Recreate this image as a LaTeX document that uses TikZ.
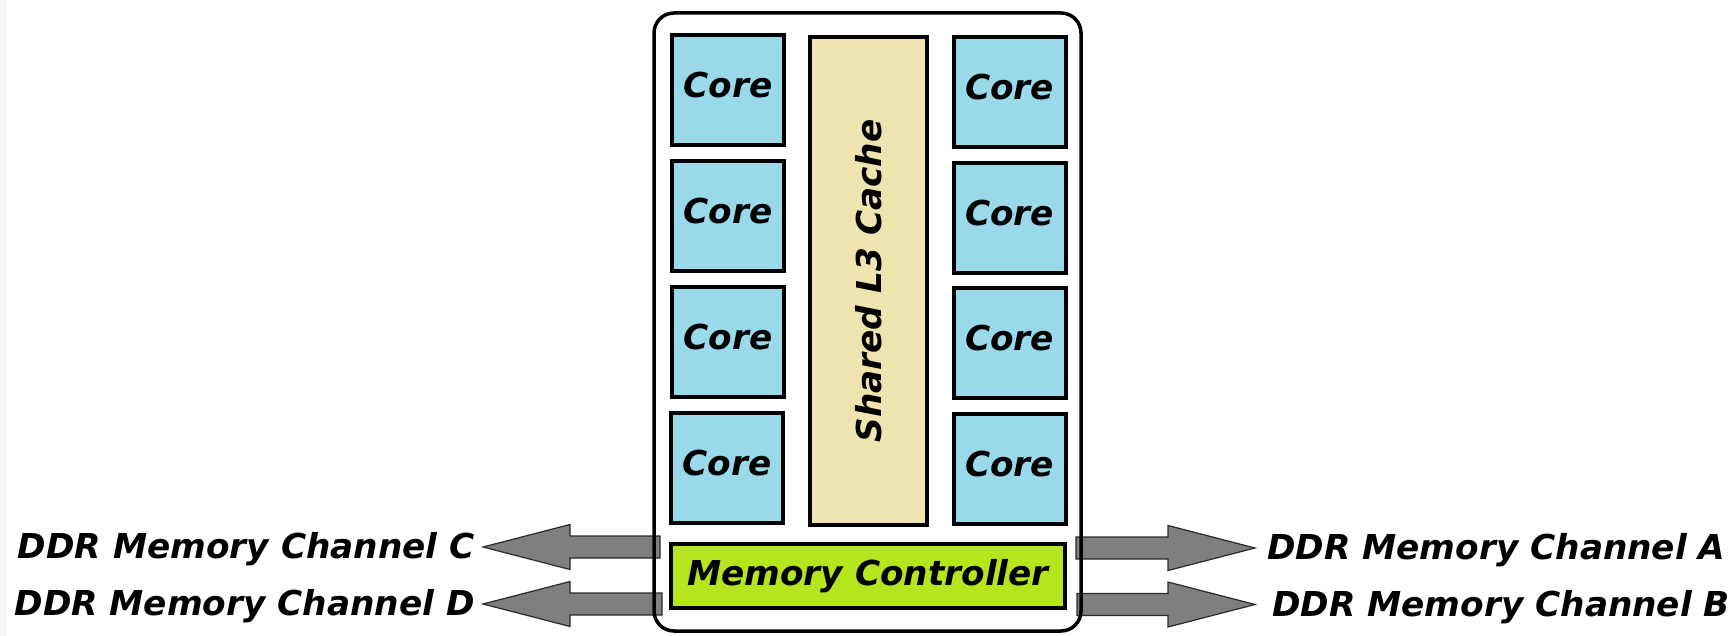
\documentclass[tikz,border=0pt]{standalone}
\usepackage{fontspec}
\setmainfont{DejaVu Sans}
\usetikzlibrary{calc}
\definecolor{corefill}{HTML}{99D9EA}
\definecolor{cachefill}{HTML}{EFE4B0}
\definecolor{mcfill}{HTML}{B5E61D}
\definecolor{arrowfill}{HTML}{7F7F7F}
\definecolor{arrowline}{HTML}{2A2A2A}
\definecolor{edgestrip}{HTML}{F7F7F7}
\newcommand\labfont{\fontsize{34.3}{41}\selectfont\bfseries\itshape}
% wide block arrow from tail coordinate #1 to tip coordinate #2
\newcommand\fatarrow[2]{%
  \path ($(#2)!87pt!(#1)$) coordinate (hb);
  \draw[chanarrow]
    ($(#1)+(0,-11)$) -- ($(hb)+(0,-11)$) -- ($(hb)+(0,-22.5)$) -- (#2)
    -- ($(hb)+(0,22.5)$) -- ($(hb)+(0,11)$) -- ($(#1)+(0,11)$) -- cycle;
}
\tikzset{
  block/.style={draw=black, line width=4pt, inner sep=0pt, font=\labfont},
  core/.style={block, fill=corefill, minimum width=112pt, minimum height=110pt,
    text depth=10pt},
  chanarrow/.style={fill=arrowfill, draw=arrowline, line width=1.2pt, line join=miter},
  chanlabel/.style={inner sep=0pt, font=\labfont},
}
\begin{document}
\begin{tikzpicture}[x=1pt, y=-1pt]
  \useasboundingbox (0,0) rectangle (1736,636);
  \fill[white] (0,0) rectangle (1736,636);
  \fill[edgestrip] (0,0) rectangle (7,636);

  % package outline (interior)
  \fill[white, rounded corners=20pt] (654,13) rectangle (1081,631);

  % cores, left column
  \node[core] (cl1) at (728,90)  {Core};
  \node[core] (cl2) at (728,216) {Core};
  \node[core] (cl3) at (728,342) {Core};
  \node[core] (cl4) at (727,468) {Core};
  % cores, right column
  \node[core] (cr1) at (1009.5,92)  {Core};
  \node[core] (cr2) at (1009.5,218) {Core};
  \node[core] (cr3) at (1009.5,343) {Core};
  \node[core] (cr4) at (1009.5,469) {Core};

  % shared cache
  \node[block, fill=cachefill, minimum width=117pt, minimum height=488pt]
    (l3) at (868.5,281) {};
  \node[font=\labfont, rotate=90] (l3txt) at (l3.center) {Shared L3 Cache};

  % memory controller
  \node[block, fill=mcfill, minimum width=394pt, minimum height=64pt]
    (mc) at (868,576) {Memory Controller};

  % channel labels
  \node[chanlabel, anchor=base east] (chC) at (475,558) {DDR Memory Channel C};
  \node[chanlabel, anchor=base east] (chD) at (475,615) {DDR Memory Channel D};
  \node[chanlabel, anchor=base west] (chA) at (1267,559) {DDR Memory Channel A};
  \node[chanlabel, anchor=base west] (chB) at (1272,616) {DDR Memory Channel B};

  % arrow ends
  \coordinate (tC) at ($(mc.west)+(-9,-29)$);
  \coordinate (tD) at ($(mc.west)+(-7,28)$);
  \coordinate (tA) at ($(mc.east)+(9,-28)$);
  \coordinate (tB) at ($(mc.east)+(10,28.5)$);
  \coordinate (pC) at ($(chC.east |- tC)+(8,0)$);
  \coordinate (pD) at ($(chD.east |- tD)+(8,0)$);
  \coordinate (pA) at ($(chA.west |- tA)+(-12,0)$);
  \coordinate (pB) at ($(chB.west |- tB)+(-17,0)$);

  \fatarrow{tC}{pC}
  \fatarrow{tD}{pD}
  \fatarrow{tA}{pA}
  \fatarrow{tB}{pB}

  % package outline (border, over the arrow shafts)
  \draw[black, line width=3.5pt, rounded corners=20pt] (654,13) rectangle (1081,631);
\end{tikzpicture}
\end{document}
